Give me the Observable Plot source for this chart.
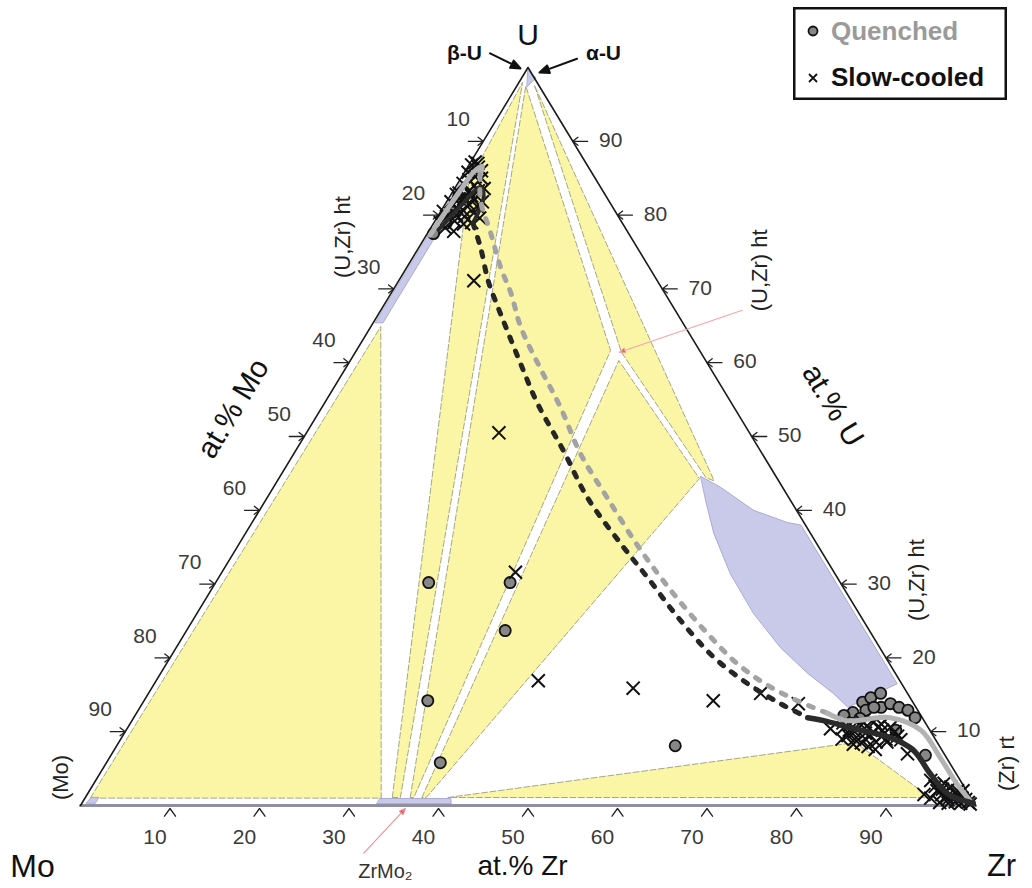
<!DOCTYPE html>
<html><head><meta charset="utf-8">
<script src="https://cdn.jsdelivr.net/npm/d3@7"></script>
<script src="https://cdn.jsdelivr.net/npm/@observablehq/plot@0.6"></script>
<style>
html,body{margin:0;padding:0;background:#fff;}
#wrap{position:relative;width:1032px;height:888px;overflow:hidden;background:#fff}
#legend{position:absolute;left:793px;top:7px}
</style></head><body>
<div id="wrap"><div id="chart"></div><div id="legend"></div></div>
<script>
// All compositions are [at.% Zr, at.% U]  (at.% Mo = 100 - Zr - U)
const cornerNames = ["Mo", "Zr", "U"];
const cornerComp = [[0, 0], [100, 0], [0, 100]];
const tickValues = [10, 20, 30, 40, 50, 60, 70, 80, 90];
const axisTitles = ["at.% Mo", "at.% U", "at.% Zr"];
const seriesNames = ["Quenched", "Slow-cooled"];

// single-phase fields
const phaseMo = [[0.5, 0.3], [1.5, 0.3], [1.5, 1.1], [0.7, 1.1]];
const phaseZrMo2 = [[33.0, 0.25], [41.3, 0.25], [40.9, 0.95], [33.0, 0.95]];
const phaseUZrLeft = [[0.25, 65.4], [1.1, 65.4], [1.1, 84.5], [0.25, 84.5]];
const phaseUApex = [[0.2, 99.6], [1.6, 98.6], [1.2, 97.4]];
const phaseUZrRight = [[47.0, 44.6], [50.0, 43.1], [55.2, 40.0], [59.8, 38.35], [61.5, 38.0],
  [83.0, 16.5], [79.1, 13.3], [76.5, 15.2], [72.3, 17.9], [67.5, 21.4], [62.2, 26.0],
  [56.9, 31.4], [52.3, 36.9], [49.2, 41.3]];

// three-phase fields
const triA = [[0.6, 1.0], [1.1, 64.9], [33.1, 1.0]];
const triB = [[34.3, 1.08], [1.1, 84.6], [0.4, 98.0], [35.2, 1.08]];
const triMid = [[36.3, 1.08], [1.0, 97.5], [28.4, 61.65], [36.7, 1.08]];
const triRight = [[2.0, 97.5], [29.75, 61.4], [47.7, 44.4], [48.8, 44.0]];
const triLow = [[37.6, 1.08], [30.0, 60.3], [47.0, 44.3], [38.1, 1.08]];
const triZr = [[40.5, 1.08], [82.3, 8.54], [94.4, 1.08]];

// samples
const quenched = [[0.7, 77.5], [1.4, 78.9], [1.4, 80.4], [1.0, 82.5],
  [23.8, 30.2], [32.9, 30.2], [35.6, 23.7], [31.7, 14.2], [37.3, 5.8], [62.4, 8.1],
  [80.0, 12.6], [80.4, 14.0], [81.0, 14.6], [81.8, 15.2], [82.8, 13.3], [83.6, 13.8],
  [84.8, 13.3], [86.0, 12.9], [87.3, 11.9], [86.0, 10.2], [81.3, 12.9], [82.0, 13.3],
  [91.0, 6.8], [81.2, 11.8], [79.2, 12.2]];
const slowCooled = [[0.5, 87.2], [1.2, 86.5], [0.4, 85.8], [1.5, 85.2], [0.6, 84.3], [2.0, 84.0],
  [2.8, 83.3], [0.8, 83.0], [1.7, 82.4], [3.0, 82.0], [0.5, 81.8], [1.5, 81.0], [2.5, 80.6],
  [3.8, 80.3], [1.0, 79.8], [2.2, 79.2], [3.4, 78.8], [2.8, 77.8], [4.8, 79.6], [0.3, 80.5],
  [0.3, 86.8], [0.9, 87.0], [1.8, 86.0], [2.3, 85.0], [1.0, 84.8], [3.3, 83.6], [2.4, 82.6],
  [1.2, 82.2], [3.7, 81.2], [2.0, 80.0], [0.7, 79.0], [1.6, 78.3], [4.2, 79.0], [3.0, 79.8],
  [4.0, 81.8], [1.8, 83.2], [2.6, 81.5], [0.6, 82.8],
  [8.4, 71.1], [21.5, 50.5], [32.8, 31.6], [42.7, 16.9], [53.8, 15.9], [63.6, 14.2],
  [68.4, 15.2], [73.3, 13.8], [78.6, 10.4],
  [80.5, 11.0], [81.5, 10.0], [82.5, 10.8], [83.5, 9.5], [84.5, 10.2], [85.5, 9.0], [82.0, 9.0],
  [83.0, 8.5], [84.0, 8.0], [81.0, 9.5], [86.0, 10.0], [80.0, 10.5],
  [80.8, 10.2], [81.8, 10.9], [82.8, 9.8], [83.8, 10.6], [84.8, 9.4], [85.2, 10.6], [83.2, 9.0],
  [82.2, 8.3], [84.6, 8.6], [85.8, 8.6], [86.6, 9.4], [81.6, 11.4], [83.0, 11.3], [84.0, 11.0],
  [79.6, 11.2], [80.6, 9.0], [87.2, 8.9], [85.0, 7.6],
  [88.9, 7.0], [93.3, 3.4], [94.7, 2.0],
  [94.5, 1.0], [95.5, 1.5], [96.5, 0.8], [97.0, 2.0], [98.0, 1.0], [96.0, 2.5], [95.0, 3.0],
  [97.5, 0.5], [98.5, 0.8], [93.5, 1.5], [99.0, 0.4], [97.6, 2.0],
  [95.2, 2.2], [96.2, 1.2], [97.2, 1.4], [98.2, 0.3], [96.8, 0.3], [95.8, 0.4], [94.2, 2.6], [99.3, 0.2]];

// trend curves
const grayHook = [[0.4, 77.3], [0.6, 81.0], [0.8, 83.7], [1.0, 85.8], [1.6, 86.6], [1.9, 85.5]];
const grayDashed = [[1.9, 85.5], [3.7, 82.0], [7.1, 77.5], [10.5, 72.9], [13.4, 69.4], [16.8, 64.8],
  [21.7, 59.3], [26.7, 53.9], [32.0, 47.7], [38.0, 41.7], [45.3, 34.6], [51.9, 28.7], [58.4, 23.3],
  [63.8, 19.2], [68.6, 16.3], [73.0, 14.2], [77.2, 12.5]];
const grayTail = [[77.2, 12.5], [79.9, 11.5], [84.5, 11.9], [88.8, 10.2], [92.8, 6.5], [96.7, 2.7], [99.5, 0.3]];
const blackHook = [[1.0, 78.0], [1.8, 81.0], [2.8, 83.8], [3.8, 82.5], [4.4, 78.9]];
const blackDashed = [[4.4, 78.9], [6.9, 75.6], [10.0, 71.1], [12.9, 67.5], [15.8, 64.0], [19.8, 59.2],
  [23.8, 54.5], [29.9, 48.1], [35.8, 41.7], [42.6, 35.5], [47.9, 30.9], [54.0, 25.5], [60.7, 20.1],
  [66.3, 16.5], [71.3, 13.8], [75.3, 11.9]];
const blackTail = [[75.3, 11.9], [77.3, 11.5], [81.2, 10.4], [85.9, 9.2], [89.3, 7.5], [92.8, 4.3], [96.1, 1.6], [99.6, 0.3]];

// label anchors
const gammaPoint = [29.5, 61.4];
const zrMo2Point = [36.3, 0];

// ---------- build ----------
const T = ([zr, u]) => ({x: zr + u / 2, y: u});
const rows = (list) => list.flatMap(([name, pts]) => pts.map(p => ({name, ...T(p)})));
const yellowRows = rows([["A", triA], ["B", triB], ["Mid", triMid], ["Right", triRight], ["Low", triLow], ["Zr", triZr]]);
const lavenderRows = rows([["Mo", phaseMo], ["ZrMo2", phaseZrMo2], ["UZrL", phaseUZrLeft], ["U", phaseUApex], ["UZrR", phaseUZrRight]]);

const arrowTick = {draw(c, l, r) { c.moveTo(0, 0); c.lineTo(0, -l); c.moveTo(-r, -l + r * 1.3); c.lineTo(0, -l); c.lineTo(r, -l + r * 1.3); }};
const chevron = {draw(c, l, r) { c.moveTo(-r, r * 1.4); c.lineTo(0, 0); c.lineTo(r, r * 1.4); }};
const solidArrow = {draw(c, l, r) { c.moveTo(0, 0); c.lineTo(0, -l + r); c.moveTo(0, -l); c.lineTo(-r, -l + r * 2.4); c.lineTo(r, -l + r * 2.4); c.closePath(); }};

const apex = T(cornerComp[2]);
const txt = {x: "x", y: "y"};
const one = (comp, text) => [{...T(comp), text}];

const curve = (pts, o) => Plot.line(pts.map(T), {x: "x", y: "y", curve: "catmull-rom", strokeLinecap: "round", ...o});

const chart = Plot.plot({
  width: 1032, height: 888, margin: 0,
  x: {domain: [0, 100], range: [80, 975], axis: null},
  y: {domain: [0, 100], range: [805, 67], axis: null},
  style: {fontFamily: "'Liberation Sans', Arial, sans-serif", background: "#fff", color: "#111"},
  marks: [
    Plot.line(yellowRows, {x: "x", y: "y", z: "name", curve: "linear-closed", fill: "#fbf5a6", stroke: "#a4a786", strokeWidth: 1, strokeDasharray: "6,2.5"}),
    Plot.line(lavenderRows, {x: "x", y: "y", z: "name", curve: "linear-closed", fill: "#c9c9ea", stroke: "#9d9dc6", strokeWidth: 0.8}),
    Plot.line([cornerComp[0], cornerComp[1]].map(T), {x: "x", y: "y", stroke: "#8f8f9f", strokeWidth: 3}),
    Plot.line([cornerComp[0], cornerComp[2], cornerComp[1]].map(T), {x: "x", y: "y", stroke: "#1a1a1a", strokeWidth: 1.6}),
    // ticks
    Plot.vector(tickValues, {x: m => T([0, 100 - m]).x, y: m => 100 - m, rotate: 90, length: 15, anchor: "end", shape: arrowTick, r: 4, stroke: "#222", strokeWidth: 1.3}),
    Plot.vector(tickValues, {x: u => T([100 - u, u]).x, y: u => u, rotate: -90, length: 15, anchor: "end", shape: arrowTick, r: 4, stroke: "#222", strokeWidth: 1.3}),
    Plot.vector(tickValues, {x: z => z, y: () => 0, length: 0, anchor: "start", shape: chevron, r: 5.5, dy: 3, stroke: "#222", strokeWidth: 1.3}),
    // tick labels
    Plot.text(tickValues, {x: m => T([0, 100 - m]).x, y: m => 100 - m, text: d => String(d), dx: -25, dy: -22, fontSize: 21, fill: "#3a3a3a"}),
    Plot.text(tickValues, {x: u => T([100 - u, u]).x, y: u => u, text: d => String(d), dx: 38, dy: -1, fontSize: 21, fill: "#3a3a3a"}),
    Plot.text(tickValues, {x: z => z, y: () => 0, text: d => String(d), dx: -15, dy: 32, fontSize: 21, fill: "#3a3a3a"}),
    // samples
    Plot.dot(quenched.map(T), {x: "x", y: "y", r: 5.6, fill: "#878787", stroke: "#111", strokeWidth: 1.8}),
    Plot.dot(slowCooled.map(T), {x: "x", y: "y", symbol: "times", r: 6, stroke: "#111", strokeWidth: 2}),
    // trend curves
    curve(grayHook, {stroke: "#b3b3b3", strokeWidth: 5}),
    curve(blackHook, {stroke: "#2b2b2b", strokeWidth: 4}),
    curve(grayDashed, {stroke: "#a3a3a3", strokeWidth: 5, strokeDasharray: "5,10"}),
    curve(blackDashed, {stroke: "#262626", strokeWidth: 5, strokeDasharray: "5,10"}),
    curve(grayTail, {stroke: "#b3b3b3", strokeWidth: 5}),
    curve(blackTail, {stroke: "#2b2b2b", strokeWidth: 5.5}),
    // annotation arrows
    Plot.vector([apex], {x: "x", y: "y", rotate: 116.6, length: 34, anchor: "end", dx: -7.5, dy: 1, shape: solidArrow, r: 4, stroke: "#111", fill: "#111", strokeWidth: 2}),
    Plot.vector([apex], {x: "x", y: "y", rotate: -110.2, length: 40, anchor: "end", dx: 11.5, dy: 5, shape: solidArrow, r: 4, stroke: "#111", fill: "#111", strokeWidth: 2}),
    Plot.vector([T(zrMo2Point)], {x: "x", y: "y", rotate: 43, length: 61, anchor: "end", dy: 3, shape: solidArrow, r: 2.5, stroke: "#f08a92", fill: "#e3262f", strokeWidth: 1}),
    Plot.vector([T(gammaPoint)], {x: "x", y: "y", rotate: -108.9, length: 130, anchor: "end", shape: solidArrow, r: 2.5, stroke: "#f4a3aa", fill: "#e3262f", strokeWidth: 1}),
    // corner labels
    Plot.text(one(cornerComp[0], cornerNames[0]), {...txt, text: "text", dx: -48, dy: 61, fontSize: 32}),
    Plot.text(one(cornerComp[1], cornerNames[1]), {...txt, text: "text", dx: 26, dy: 61, fontSize: 31}),
    Plot.text(one(cornerComp[2], cornerNames[2]), {...txt, text: "text", dy: -32, fontSize: 30}),
    // axis titles
    Plot.text(one([0, 50], axisTitles[0]), {...txt, text: "text", dx: -71, dy: -28, rotate: -58.8, fontSize: 30}),
    Plot.text(one([50, 50], axisTitles[1]), {...txt, text: "text", dx: 81, dy: -31, rotate: 58.7, fontSize: 30}),
    Plot.text(one([50, 0], axisTitles[2]), {...txt, text: "text", dx: -5.5, dy: 61, fontSize: 28}),
    // phase labels
    Plot.text(one([0, 80], "(U,Zr) ht"), {...txt, text: "text", dx: -96, dy: 22, rotate: -90, fontSize: 22, fill: "#222"}),
    Plot.text(one(gammaPoint, "(U,Zr) ht"), {...txt, text: "text", dx: 141, dy: -82, rotate: -90, fontSize: 22, fill: "#222"}),
    Plot.text(one([70, 30], "(U,Zr) ht"), {...txt, text: "text", dx: 76, dy: -4, rotate: -90, fontSize: 22, fill: "#222"}),
    Plot.text(one([95, 5], "(Zr) rt"), {...txt, text: "text", dx: 54, dy: -5, rotate: -90, fontSize: 22, fill: "#222"}),
    Plot.text(one(cornerComp[0], "(Mo)"), {...txt, text: "text", dx: -20, dy: -28, rotate: -90, fontSize: 22, fill: "#222"}),
    Plot.text(one(zrMo2Point, "ZrMo₂"), {...txt, text: "text", dx: -20, dy: 66, fontSize: 20, fill: "#333"}),
    Plot.text(one(cornerComp[2], "β-U"), {...txt, text: "text", dx: -63.5, dy: -14, fontSize: 21, fontWeight: "bold"}),
    Plot.text(one(cornerComp[2], "α-U"), {...txt, text: "text", dx: 75.5, dy: -14, fontSize: 21, fontWeight: "bold"})
  ]
});
document.getElementById("chart").append(chart);

// legend
const leg = d3.select("#legend").append("svg").attr("width", 215).attr("height", 94)
  .style("font-family", "'Liberation Sans', Arial, sans-serif");
leg.append("rect").attr("x", 1.25).attr("y", 1.25).attr("width", 211.5).attr("height", 90.5)
  .attr("fill", "#fff").attr("stroke", "#111").attr("stroke-width", 2.5);
leg.append("circle").attr("cx", 20).attr("cy", 24).attr("r", 4.5).attr("fill", "#878787").attr("stroke", "#111").attr("stroke-width", 1.8);
leg.append("path").attr("d", "M16,67L24,75M24,67L16,75").attr("stroke", "#111").attr("stroke-width", 1.8);
leg.append("text").attr("x", 38).attr("y", 33).attr("font-size", 26).attr("font-weight", "bold").attr("fill", "#9a9a9a").text(seriesNames[0]);
leg.append("text").attr("x", 38).attr("y", 79).attr("font-size", 26).attr("font-weight", "bold").attr("fill", "#111").text(seriesNames[1]);
</script>
</body></html>
